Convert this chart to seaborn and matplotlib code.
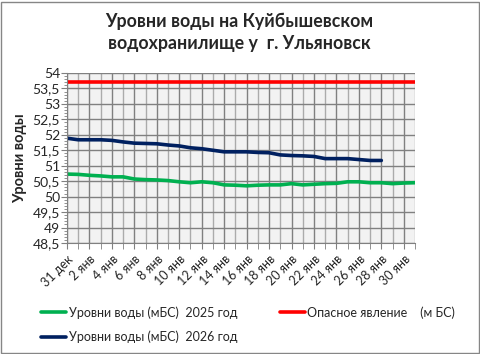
import numpy as np
import matplotlib.pyplot as plt
import matplotlib.ticker as mticker
import pandas as pd
import seaborn as sns

# данные
labels = ['31 дек'] + ['%d янв' % d for d in range(1, 32)]
level_2025 = [50.73, 50.72, 50.69, 50.67, 50.64, 50.64, 50.57, 50.55, 50.54, 50.52,
              50.48, 50.45, 50.48, 50.45, 50.38, 50.37, 50.35, 50.37, 50.38, 50.38,
              50.42, 50.38, 50.40, 50.42, 50.43, 50.48, 50.48, 50.45, 50.45, 50.42,
              50.44, 50.45]
level_2026 = [51.89, 51.84, 51.84, 51.84, 51.82, 51.77, 51.73, 51.72, 51.71, 51.67,
              51.64, 51.58, 51.55, 51.50, 51.45, 51.45, 51.45, 51.43, 51.42, 51.35,
              51.33, 51.32, 51.30, 51.23, 51.23, 51.23, 51.20, 51.17, 51.17]
danger = 53.7

sns.set_style('white')
plt.rcParams['font.family'] = ['Lato', 'DejaVu Sans']

df25 = pd.DataFrame({'day': range(len(level_2025)), 'level': level_2025})
df26 = pd.DataFrame({'day': range(len(level_2026)), 'level': level_2026})
dfd = pd.DataFrame({'day': range(len(labels)), 'level': [danger] * len(labels)})

fig = plt.figure(figsize=(4.81, 3.54), dpi=100)
ax = fig.add_axes([67 / 481, 1 - 243 / 354, 348 / 481, 170 / 354])
ax.set_facecolor('#F2F2F2')

sns.lineplot(data=df25, x='day', y='level', ax=ax, color='#00B050', lw=2.6,
             label='Уровни воды (мБС)  2025 год')
sns.lineplot(data=df26, x='day', y='level', ax=ax, color='#002060', lw=2.6,
             label='Уровни воды (мБС)  2026 год')
sns.lineplot(data=dfd, x='day', y='level', ax=ax, color='#FF0000', lw=2.6,
             label='Опасное явление    (м БС)')

ax.set_xlim(0, len(labels) - 1)
ax.set_ylim(48.5, 54)
ax.yaxis.set_major_locator(mticker.MultipleLocator(0.5))
ax.yaxis.set_minor_locator(mticker.MultipleLocator(0.1))
ax.yaxis.set_major_formatter(mticker.FuncFormatter(lambda v, p: ('%g' % v).replace('.', ',')))
ax.set_xticks(range(0, len(labels), 2))
ax.set_xticklabels(labels[::2], rotation=45, ha='right', rotation_mode='anchor', fontsize=9)
ax.set_xticks(range(1, len(labels), 2), minor=True)
ax.tick_params(axis='y', which='major', labelsize=10, length=4, color='#808080', direction='out', left=True, pad=1)
ax.tick_params(axis='y', which='minor', length=2.5, color='#808080', direction='out', left=True)
ax.tick_params(axis='x', which='both', length=4, color='#808080', direction='out', bottom=True, pad=3)

ax.grid(True, which='major', color='#808080', lw=1)
ax.grid(True, axis='x', which='minor', color='#ABABAB', lw=1)
ax.set_axisbelow(True)
for s in ax.spines.values():
    s.set_visible(False)
ax.spines['left'].set_visible(True)
ax.spines['left'].set_color('#808080')
ax.spines['bottom'].set_visible(True)
ax.spines['bottom'].set_color('#808080')

ax.set_xlabel('')
ax.set_ylabel('Уровни воды', fontsize=10.5, fontweight='bold', labelpad=4)

fig.suptitle('Уровни воды на Куйбышевском\nводохранилище у  г. Ульяновск',
             x=239 / 481, y=1 - 13 / 354, fontsize=12.8, fontweight='bold',
             va='top', linespacing=1.35)

ax.get_legend().remove()
h, l = ax.get_legend_handles_labels()
fig.legend(h, l, loc='upper left', bbox_to_anchor=(30 / 481, 1 - 295 / 354), ncol=2,
           frameon=False, fontsize=9, handlelength=2.0, handletextpad=0.2,
           columnspacing=3.4, labelspacing=0.95)

fig.patches.append(plt.Rectangle((1 / 481, 1 / 354), 478 / 481, 351 / 354, fill=False,
                                 edgecolor='#868686', lw=1, transform=fig.transFigure))
fig.savefig('out.png', dpi=100)
